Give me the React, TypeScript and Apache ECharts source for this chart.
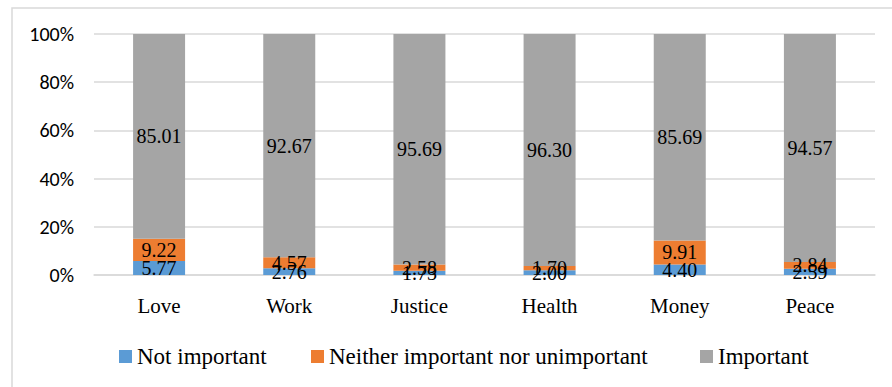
import React, { useEffect, useRef } from "react";
import * as echarts from "echarts";

const categories = ["Love", "Work", "Justice", "Health", "Money", "Peace"];
const seriesNames = ["Not important", "Neither important nor unimportant", "Important"];
const notImportant = [5.77, 2.76, 1.73, 2.0, 4.4, 2.59];
const neither = [9.22, 4.57, 2.58, 1.7, 9.91, 2.84];
const important = [85.01, 92.67, 95.69, 96.3, 85.69, 94.57];
const yTicks = { min: 0, max: 100, interval: 20 };

const serif = "Liberation Serif";
const sans = "Carlito, Calibri, 'Liberation Sans', sans-serif";
const colors = ["#5B9BD5", "#ED7D31", "#A5A5A5"];
const legendLefts = [114, 306, 695];

export default function App() {
  const ref = useRef<HTMLDivElement>(null);

  useEffect(() => {
    if (!ref.current) return;
    const chart = echarts.init(ref.current, undefined, { renderer: "svg" });

    const label = {
      show: true,
      position: "inside",
      color: "#000",
      fontFamily: serif,
      fontSize: 20,
      formatter: (p: any) => Number(p.value).toFixed(2),
    };

    const values = [notImportant, neither, important];

    chart.setOption({
      animation: false,
      backgroundColor: "#fff",
      textStyle: { fontFamily: serif },
      graphic: [
        {
          type: "rect",
          shape: { x: 12, y: 8, width: 920, height: 420 },
          style: { fill: "none", stroke: "#D9D9D9", lineWidth: 1.5 },
          silent: true,
        },
      ],
      grid: { left: 94, right: 17, top: 34, bottom: 112 },
      // one legend block per series, each placed on its own
      legend: seriesNames.map((name, i) => ({
        left: legendLefts[i],
        top: 340,
        itemWidth: 13,
        itemHeight: 13,
        icon: "rect",
        textStyle: { fontFamily: serif, fontSize: 23, color: "#000" },
        data: [name],
      })),
      xAxis: {
        type: "category",
        data: categories,
        axisLine: { show: true, lineStyle: { color: "#D9D9D9", width: 1.5 } },
        axisTick: { show: false },
        axisLabel: { fontFamily: serif, fontSize: 21, color: "#000", margin: 20 },
      },
      yAxis: {
        type: "value",
        min: yTicks.min,
        max: yTicks.max,
        interval: yTicks.interval,
        axisLine: { show: false },
        axisTick: { show: false },
        splitLine: { lineStyle: { color: "#D9D9D9", width: 1.5 } },
        axisLabel: {
          formatter: "{value}%",
          fontFamily: sans,
          fontSize: 20,
          color: "#000",
          margin: 20,
        },
      },
      series: seriesNames.map((name, i) => ({
        name,
        type: "bar",
        stack: "total",
        barWidth: 52,
        data: values[i],
        itemStyle: { color: colors[i] },
        label,
      })),
    });

    return () => chart.dispose();
  }, []);

  return (
    <div
      ref={ref}
      style={{ position: "fixed", left: 0, top: 0, width: 892, height: 387 }}
    />
  );
}
